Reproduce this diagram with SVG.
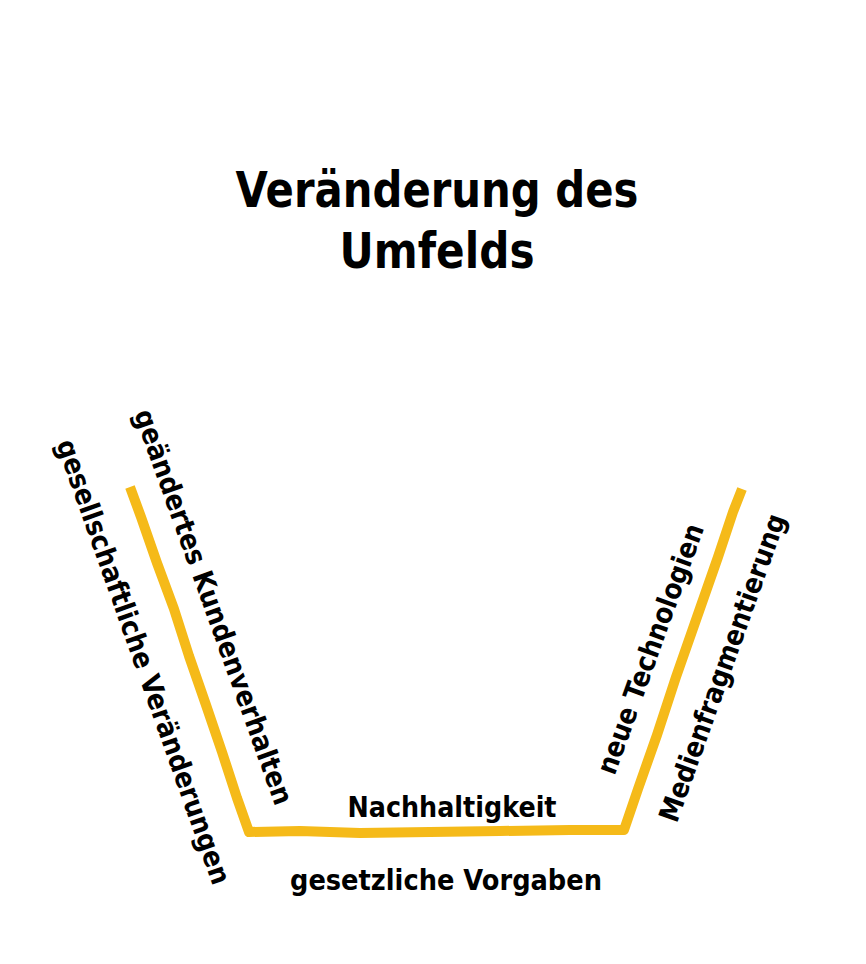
<svg xmlns="http://www.w3.org/2000/svg" width="866" height="964" viewBox="0 0 866 964">
<style>
.t{font-family:"Comic Sans MS","DejaVu Sans","Liberation Sans",sans-serif;font-weight:bold;fill:#000;}
.title{font-size:50px;text-anchor:middle;}
.lbl{font-size:28px;text-anchor:middle;}
.frame{fill:none;stroke:#F5BA19;stroke-width:10;stroke-linejoin:round;stroke-linecap:butt;}
</style>
<rect width="866" height="964" fill="#fff"/>
<g id="title">
<text class="t title" x="437" y="207" textLength="403" lengthAdjust="spacingAndGlyphs">Veränderung des</text>
<text class="t title" x="437" y="268" textLength="195" lengthAdjust="spacingAndGlyphs">Umfelds</text>
</g>
<g id="connectors">
<path class="frame" d="M130,487 L141,517 L157,563 L174,609 L189,656 L206,705 L222,752 L237,798 L249,832 L300,831 L360,833 L430,832 L500,831 L570,830 L624,830 L638,789 L657,735 L676,677 L697,617 L718,557 L733,512 L742,489"/>
</g>
<g id="gesellschaftliche">
<text class="t lbl" transform="translate(143,662) rotate(70.5)" x="0" y="9" textLength="470" lengthAdjust="spacingAndGlyphs">gesellschaftliche Veränderungen</text>
</g>
<g id="kundenverhalten">
<text class="t lbl" transform="translate(213,607) rotate(70.2)" x="0" y="9" textLength="418" lengthAdjust="spacingAndGlyphs">geändertes Kundenverhalten</text>
</g>
<g id="nachhaltigkeit">
<text class="t lbl" x="452" y="817" textLength="209" lengthAdjust="spacingAndGlyphs">Nachhaltigkeit</text>
</g>
<g id="vorgaben">
<text class="t lbl" x="446" y="890" textLength="312" lengthAdjust="spacingAndGlyphs">gesetzliche Vorgaben</text>
</g>
<g id="technologien">
<text class="t lbl" transform="translate(651,649) rotate(-70.1)" x="0" y="9" textLength="264" lengthAdjust="spacingAndGlyphs">neue Technologien</text>
</g>
<g id="medienfragmentierung">
<text class="t lbl" transform="translate(723,668) rotate(-70.3)" x="0" y="9" textLength="325" lengthAdjust="spacingAndGlyphs">Medienfragmentierung</text>
</g>
</svg>
